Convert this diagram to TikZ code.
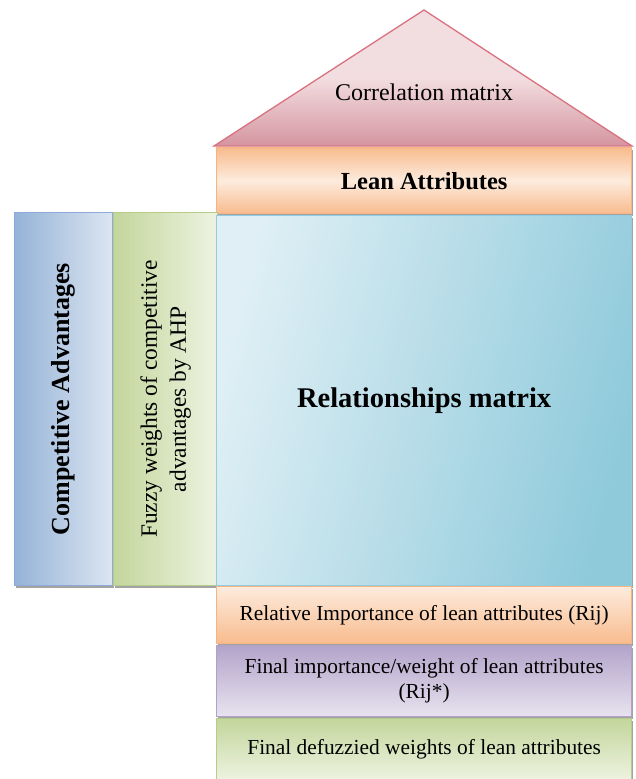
\documentclass[tikz,border=0pt]{standalone}
\usepackage{fontspec}
\setmainfont{Liberation Serif}
\usetikzlibrary{shadows}

\definecolor{roofedge}{HTML}{D9727F}
\definecolor{roofdark}{HTML}{D595A0}
\definecolor{rooflight}{HTML}{F2DDE0}
\definecolor{orangeedge}{HTML}{F5B482}
\definecolor{orangedark}{HTML}{F8BC8E}
\definecolor{orangelight}{HTML}{FDEBDD}
\definecolor{blueedge}{HTML}{8EAADB}
\definecolor{bluedark}{HTML}{95B3D7}
\definecolor{bluelight}{HTML}{DCE6F2}
\definecolor{greenedge}{HTML}{B5CC8A}
\definecolor{greendark}{HTML}{C3D69B}
\definecolor{greenlight}{HTML}{EEF3E2}
\definecolor{cyanedge}{HTML}{93CDDD}
\definecolor{cyandark}{HTML}{8FCADB}
\definecolor{cyanlight}{HTML}{DFEFF5}
\definecolor{purpleedge}{HTML}{B2A1C7}
\definecolor{purpledark}{HTML}{B3A4CA}
\definecolor{purplelight}{HTML}{E8E3EF}

\tikzset{
  panel/.style={draw, line width=1.3pt, inner sep=4pt, anchor=north west, align=center,
    drop shadow={shadow xshift=1.5pt, shadow yshift=-2.5pt, fill=black!45, opacity=0.8}},
  txt/.style={font=\fontsize{21.4}{25}\selectfont},
}

\begin{document}
\begin{tikzpicture}[x=1pt,y=-1pt]
    \useasboundingbox (0,0) rectangle (635,779);
    \shade[draw=roofedge, line width=1.3pt, top color=rooflight, bottom color=roofdark, middle color=rooflight]
        (214,146) -- (424,10) -- (632,146) -- cycle;
    \node[font=\fontsize{24}{28}\selectfont] (corr) at (424,92) {Correlation matrix};
    \node[panel, draw=orangeedge, top color=orangedark, bottom color=orangedark, middle color=orangelight,
        minimum width=415pt, minimum height=66pt, font=\fontsize{24.5}{28}\selectfont\bfseries] (lean) at (216,147) {Lean Attributes};
    \node[panel, draw=blueedge, left color=bluedark, right color=bluelight,
        minimum width=98pt, minimum height=373pt] (comp) at (14,212) {};
    \node[font=\fontsize{26}{30}\selectfont\bfseries, rotate=90] (compt) at (comp.center) {Competitive Advantages};
    \node[panel, draw=greenedge, left color=greendark, right color=greenlight,
        minimum width=104pt, minimum height=373pt] (fuzzy) at (113,212) {};
    \node[font=\fontsize{23.4}{29}\selectfont, rotate=90, align=center] (fuzzyt) at (fuzzy.center) {Fuzzy weights of competitive\\advantages by AHP};
    \node[panel, draw=cyanedge, left color=cyanlight, right color=cyandark, shading angle=75,
        minimum width=415pt, minimum height=370pt] (rel) at (216,215) {};
    \node[font=\fontsize{28.5}{32}\selectfont\bfseries] (relt) at (rel.center) {Relationships matrix};
    \node[panel, draw=orangeedge, top color=orangelight, bottom color=orangedark,
        minimum width=415pt, minimum height=57pt, txt] (rij) at (216,586) {Relative Importance of lean attributes (Rij)};
    \node[panel, draw=purpleedge, top color=purpledark, bottom color=purplelight,
        minimum width=415pt, minimum height=71pt, txt] (fin) at (216,645) {Final importance/weight of lean attributes\\(Rij*)};
    \node[panel, draw=greenedge, top color=greendark, bottom color=greenlight,
        minimum width=415pt, minimum height=62pt, txt] (defz) at (216,718) {Final defuzzied weights of lean attributes};
\end{tikzpicture}
\end{document}
